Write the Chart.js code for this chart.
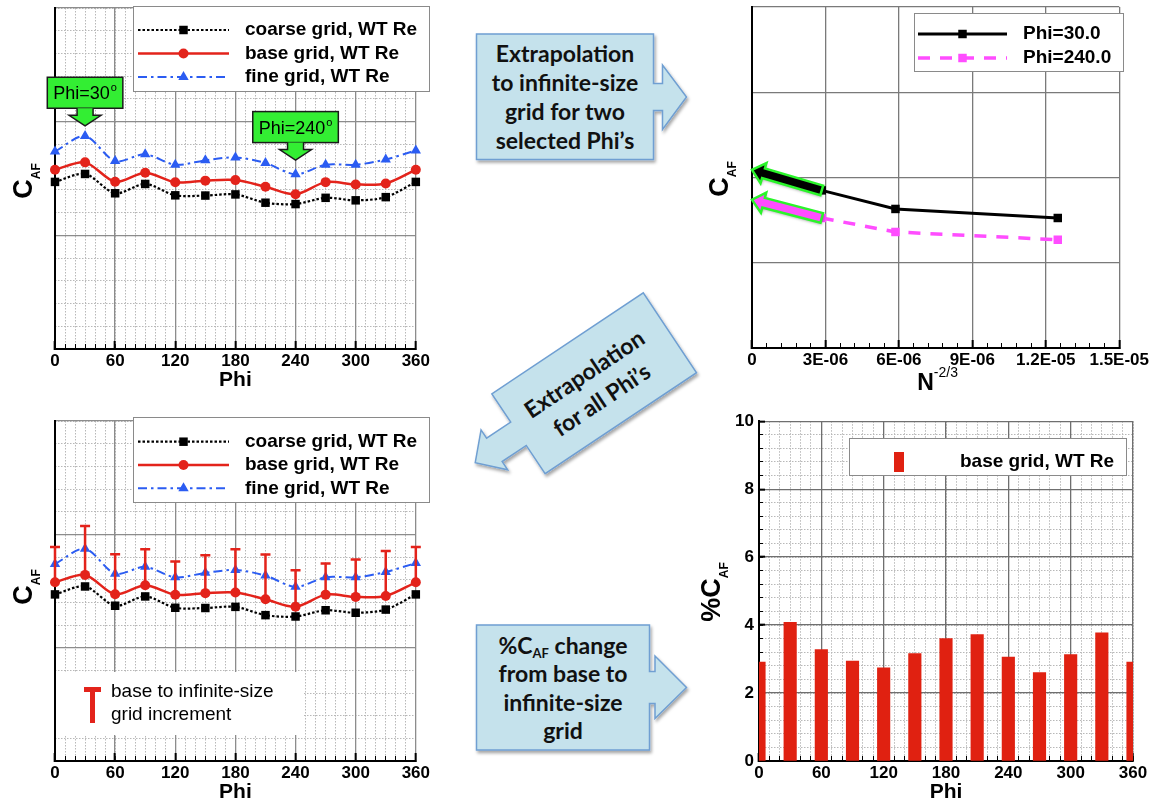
<!DOCTYPE html>
<html>
<head>
<meta charset="utf-8">
<script src="https://cdn.jsdelivr.net/npm/chart.js@4.4.0/dist/chart.umd.min.js"></script>
<style>
  html, body { margin: 0; padding: 0; background: #fff; }
  #page { position: relative; width: 1159px; height: 803px; overflow: hidden; }
  .panel { position: absolute; }
  #arrows { position: absolute; left: 0; top: 0; }
</style>
</head>
<body>
<div id="page">
  <svg id="arrows" width="1159" height="803">
    <defs>
      <filter id="sh" x="-20%" y="-20%" width="140%" height="140%">
        <feDropShadow dx="1.5" dy="2.5" stdDeviation="1.6" flood-color="#000" flood-opacity="0.35"/>
      </filter>
    </defs>
    <g fill="#c5e2ec" stroke="#6f9fd2" stroke-width="1.5" filter="url(#sh)">
      <path d="M476.5,34 H653.5 V83.5 H662.5 V65 L686.5,97 L662.5,129.5 V110.5 H653.5 V159.5 H476.5 Z"/>
      <path d="M476.5,625 H649.5 V671.5 H655 V656 L686.5,687.5 L655,718.5 V703.5 H649.5 V750 H476.5 Z"/>
      <path transform="translate(594.2,383.3) rotate(-33.7)"
            d="M-91,-48 H91 V48 H-91 V14 H-120 V24 L-143,0 L-120,-24 V-14 H-91 Z"/>
    </g>
    <g font-family="Lato, 'Open Sans', sans-serif" font-weight="bold" font-size="23" text-anchor="middle" fill="#111">
      <text x="565" y="62">Extrapolation</text>
      <text x="565" y="90.5">to infinite-size</text>
      <text x="565" y="120">grid for two</text>
      <text x="565" y="148.5">selected Phi’s</text>

      <text x="563" y="654">%C<tspan font-size="13" dy="4">AF</tspan><tspan dy="-4"> change</tspan></text>
      <text x="563" y="682">from base to</text>
      <text x="563" y="710.5">infinite-size</text>
      <text x="563" y="739">grid</text>

      <g transform="translate(594.2,383.3) rotate(-33.7)">
        <text x="-3" y="-5">Extrapolation</text>
        <text x="-3" y="26">for all Phi’s</text>
      </g>
    </g>
  </svg>
  <div class="panel" style="left:0;top:0;width:440px;height:400px"><canvas id="chart-caf-top"></canvas></div>
  <div class="panel" style="left:700px;top:0;width:459px;height:400px"><canvas id="chart-extrap"></canvas></div>
  <div class="panel" style="left:0;top:400px;width:440px;height:403px"><canvas id="chart-caf-bottom"></canvas></div>
  <div class="panel" style="left:700px;top:400px;width:459px;height:403px"><canvas id="chart-pct"></canvas></div>
</div>

<script>
// ---- data ----
var phiDeg      = [0, 30, 60, 90, 120, 150, 180, 210, 240, 270, 300, 330, 360];
var coarseCaf   = [1.470, 1.540, 1.370, 1.452, 1.352, 1.350, 1.360, 1.287, 1.275, 1.330, 1.308, 1.336, 1.470];
var baseCaf     = [1.577, 1.642, 1.471, 1.551, 1.467, 1.481, 1.486, 1.427, 1.361, 1.468, 1.448, 1.456, 1.577];
var fineCaf     = [1.738, 1.873, 1.653, 1.713, 1.621, 1.660, 1.685, 1.636, 1.537, 1.621, 1.621, 1.668, 1.746];
var infiniteCaf = [1.889, 2.074, 1.824, 1.868, 1.760, 1.816, 1.868, 1.821, 1.683, 1.742, 1.778, 1.854, 1.889];
var pctChange   = [2.91, 4.08, 3.28, 2.94, 2.74, 3.16, 3.60, 3.72, 3.06, 2.60, 3.13, 3.77, 2.91];

// N^-2/3 of fine, base, coarse grid
var gridN       = [2.85e-6, 5.86e-6, 12.49e-6];
var phi30Caf    = [1.849, 1.631, 1.525];
var phi240Caf   = [1.525, 1.361, 1.270];
var extrapCaf   = [2.09, 1.74];           // value at N^-2/3 = 0

var phiTicks    = [0, 60, 120, 180, 240, 300, 360];
var nTickValues = [0, 3e-6, 6e-6, 9e-6, 12e-6, 15e-6];
var nTickLabels = ['0', '3E-06', '6E-06', '9E-06', '1.2E-05', '1.5E-05'];

var seriesLabels = ['coarse grid, WT Re', 'base grid, WT Re', 'fine grid, WT Re'];

// ---- styles ----
var FONT = "'Liberation Sans', Arial, Helvetica, sans-serif";
var RED = '#e3231b', BLUE = '#2b5cf2', MAGENTA = '#ff4dff';

Chart.defaults.animation = false;
Chart.defaults.font.family = FONT;

// scale boxes get a fixed size so the plot area lands where the figure has it
function fixSize(n) {
  return function(scale) {
    if (scale.isHorizontal()) scale.height = n; else scale.width = n;
  };
}

function setTicks(values) {
  return function(scale) {
    scale.ticks = values.map(function(v) { return { value: v }; });
  };
}

function minorAxis(pos, min, max, step, tickLen) {
  return {
    type: 'linear', position: pos, min: min, max: max, offset: false,
    afterFit: fixSize(0),
    ticks: { display: false, stepSize: step },
    grid: { color: '#b8b8b8', lineWidth: 1, offset: false,
            drawTicks: !!tickLen, tickLength: tickLen || 0, tickColor: '#000', tickWidth: 1 },
    border: { display: false, dash: [1.5, 1.5] }
  };
}

function majorAxis(pos, min, max, step, o) {
  var ax = {
    type: 'linear', position: pos, min: min, max: max, offset: false,
    afterFit: fixSize(o.size || 0),
    ticks: { display: !!o.labels, stepSize: step, padding: o.pad || 0, color: '#000', autoSkip: false,
             maxRotation: 0, font: { family: FONT, size: 17, weight: 'bold' } },
    grid: { color: o.gridColor || '#8c8c8c', lineWidth: 1.3, offset: false,
            drawTicks: !!o.tick, tickLength: o.tick || 0, tickColor: '#000', tickWidth: 2 },
    border: { display: true, color: '#000', width: 2 }
  };
  if (o.values) ax.afterBuildTicks = setTicks(o.values);
  if (typeof o.labels === 'function') ax.ticks.callback = o.labels;
  return ax;
}

// ---- drawing helpers ----
function drawMarker(ctx, style, x, y, r) {
  ctx.beginPath();
  if (style === 'rect') {
    var s = r * Math.SQRT1_2;
    ctx.rect(x - s, y - s, 2 * s, 2 * s);
  } else if (style === 'triangle') {
    ctx.moveTo(x, y - r);
    ctx.lineTo(x + r * 0.866, y + r * 0.5);
    ctx.lineTo(x - r * 0.866, y + r * 0.5);
    ctx.closePath();
  } else {
    ctx.arc(x, y, r, 0, Math.PI * 2);
  }
  ctx.fill();
}

function drawLegend(chart, box) {
  var ctx = chart.ctx;
  ctx.save();
  ctx.fillStyle = '#fff';
  ctx.fillRect(box.x, box.y, box.w, box.h);
  ctx.strokeStyle = '#8a8a8a';
  ctx.lineWidth = 1;
  ctx.strokeRect(box.x + 0.5, box.y + 0.5, box.w, box.h);
  box.rows.forEach(function(rowY, i) {
    var ds = chart.data.datasets[i];
    ctx.strokeStyle = ds.borderColor;
    ctx.lineWidth = ds.borderWidth;
    ctx.setLineDash(ds.borderDash || []);
    ctx.beginPath();
    ctx.moveTo(box.lineX[0], rowY);
    ctx.lineTo(box.lineX[1], rowY);
    ctx.stroke();
    ctx.setLineDash([]);
    ctx.fillStyle = ds.borderColor;
    drawMarker(ctx, ds.pointStyle, (box.lineX[0] + box.lineX[1]) / 2, rowY, ds.pointRadius);
    ctx.fillStyle = '#000';
    ctx.font = 'bold 19px ' + FONT;
    ctx.textBaseline = 'middle';
    ctx.textAlign = 'left';
    ctx.fillText(ds.label, box.textX, rowY);
  });
  ctx.restore();
}

// text made of parts [text, size, dy, weight], rotated for y titles
function drawParts(ctx, parts, x, y, rotated) {
  ctx.save();
  ctx.translate(x, y);
  if (rotated) ctx.rotate(-Math.PI / 2);
  ctx.fillStyle = '#000';
  ctx.textBaseline = 'alphabetic';
  ctx.textAlign = 'left';
  var total = 0;
  parts.forEach(function(p) {
    ctx.font = (p[3] || 'bold') + ' ' + p[1] + 'px ' + FONT;
    p.w = ctx.measureText(p[0]).width;
    total += p.w;
  });
  var cx = -total / 2;
  parts.forEach(function(p) {
    ctx.font = (p[3] || 'bold') + ' ' + p[1] + 'px ' + FONT;
    ctx.fillText(p[0], cx, p[2]);
    cx += p.w;
  });
  ctx.restore();
}

function drawPhiTitle(chart, baseY) {
  var a = chart.chartArea;
  drawParts(chart.ctx, [['Phi', 21, 0]], (a.left + a.right) / 2, baseY, false);
}

// green "Phi=xx°" tag pointing down at a data position
function drawTag(chart, phi, caf, text) {
  var ctx = chart.ctx;
  var px = chart.scales.x.getPixelForValue(phi);
  var tipY = chart.scales.y.getPixelForValue(caf);
  ctx.save();
  ctx.font = '18px ' + FONT;
  var tw = ctx.measureText(text).width;
  var w = tw + 7 + 12, h = 31;
  var bottom = tipY - 17.5, top = bottom - h;
  ctx.fillStyle = '#33ee33';
  ctx.strokeStyle = '#1a1a1a';
  ctx.lineWidth = 1.5;
  ctx.fillRect(px - w / 2, top, w, h);
  ctx.strokeRect(px - w / 2, top, w, h);
  ctx.beginPath();
  ctx.moveTo(px - 8, bottom);
  ctx.lineTo(px - 8, bottom + 7);
  ctx.lineTo(px - 16, bottom + 7);
  ctx.lineTo(px, tipY);
  ctx.lineTo(px + 16, bottom + 7);
  ctx.lineTo(px + 8, bottom + 7);
  ctx.lineTo(px + 8, bottom);
  ctx.fill();
  ctx.stroke();
  ctx.fillStyle = '#000';
  ctx.textBaseline = 'alphabetic';
  ctx.textAlign = 'left';
  var tx = px - w / 2 + 6;
  ctx.fillText(text, tx, top + 22);
  ctx.font = '11px ' + FONT;
  ctx.fillText('o', tx + tw + 1, top + 14);
  ctx.restore();
}

function drawFatArrow(ctx, x0, y0, x1, y1, fill) {
  var dx = x1 - x0, dy = y1 - y0, len = Math.sqrt(dx * dx + dy * dy);
  var ux = dx / len, uy = dy / len, nx = -uy, ny = ux;
  var hw = 5, headW = 10.5, headL = 12;
  var bx = x1 - ux * headL, by = y1 - uy * headL;
  var pts = [
    [x0 + nx * hw, y0 + ny * hw], [bx + nx * hw, by + ny * hw], [bx + nx * headW, by + ny * headW],
    [x1, y1],
    [bx - nx * headW, by - ny * headW], [bx - nx * hw, by - ny * hw], [x0 - nx * hw, y0 - ny * hw]
  ];
  ctx.save();
  ctx.beginPath();
  pts.forEach(function(p, i) { if (i) ctx.lineTo(p[0], p[1]); else ctx.moveTo(p[0], p[1]); });
  ctx.closePath();
  ctx.shadowColor = 'rgba(0,0,0,0.35)';
  ctx.shadowBlur = 3;
  ctx.shadowOffsetX = 1;
  ctx.shadowOffsetY = 2;
  ctx.fillStyle = fill;
  ctx.fill();
  ctx.shadowColor = 'transparent';
  ctx.strokeStyle = '#2af52a';
  ctx.lineWidth = 2.5;
  ctx.lineJoin = 'miter';
  ctx.stroke();
  ctx.restore();
}

function toXY(xs, ys) {
  return ys.map(function(v, i) { return { x: xs[i], y: v }; });
}

function cafDatasets() {
  return [{
    label: seriesLabels[0], data: toXY(phiDeg, coarseCaf), xAxisID: 'x', yAxisID: 'y',
    borderColor: '#000', backgroundColor: '#000', pointBackgroundColor: '#000',
    borderWidth: 2.2, borderDash: [2.5, 2], pointStyle: 'rect', pointRadius: 6, pointBorderWidth: 0,
    tension: 0.3, clip: false
  }, {
    label: seriesLabels[1], data: toXY(phiDeg, baseCaf), xAxisID: 'x', yAxisID: 'y',
    borderColor: RED, backgroundColor: RED, pointBackgroundColor: RED,
    borderWidth: 2.5, pointStyle: 'circle', pointRadius: 5, pointBorderWidth: 0,
    tension: 0.3, clip: false
  }, {
    label: seriesLabels[2], data: toXY(phiDeg, fineCaf), xAxisID: 'x', yAxisID: 'y',
    borderColor: BLUE, backgroundColor: BLUE, pointBackgroundColor: BLUE,
    borderWidth: 2, borderDash: [9, 4, 2.5, 4], pointStyle: 'triangle', pointRadius: 6, pointBorderWidth: 0,
    tension: 0.3, clip: false
  }];
}

function cafScales(bottomSize) {
  return {
    xm: minorAxis('bottom', 0, 360, 10, -5),
    ym: minorAxis('left', 0, 3, 0.2, 0),
    x: majorAxis('bottom', 0, 360, 60, { labels: true, pad: 10, tick: -8, values: phiTicks, size: bottomSize }),
    y: majorAxis('left', 0, 3, 1, {})
  };
}

// ---- top-left: C_AF vs Phi with two marked angles ----
new Chart(document.getElementById('chart-caf-top'), {
  type: 'line',
  data: { datasets: cafDatasets() },
  options: {
    responsive: true, maintainAspectRatio: false,
    layout: { padding: { left: 55, top: 8, right: 11, bottom: 0 } },
    plugins: { legend: { display: false }, tooltip: { enabled: false } },
    scales: cafScales(51)
  },
  plugins: [{
    id: 'topLeftDecor',
    afterDraw: function(chart) {
      drawLegend(chart, { x: 133, y: 6, w: 296, h: 85, rows: [30, 53.5, 77], lineX: [138, 229], textX: 245 });
      drawTag(chart, 30, 1.964, 'Phi=30');
      drawTag(chart, 240, 1.662, 'Phi=240');
      drawParts(chart.ctx, [['C', 27, 0], ['AF', 12, 7.5]], 32, 181, true);
      drawPhiTitle(chart, 386);
    }
  }]
});

// ---- top-right: extrapolation to infinite grid ----
var minorN = [];
for (var k = 0; k <= 25; k++) minorN.push(k * 6e-7);

var extrapScales = {
  xm: (function() {
    var ax = minorAxis('bottom', 0, 1.5e-5, 6e-7, -5);
    ax.grid.drawOnChartArea = false;
    ax.afterBuildTicks = setTicks(minorN);
    return ax;
  })(),
  x: majorAxis('bottom', 0, 1.5e-5, 3e-6, {
    labels: function(v, i) { return nTickLabels[i]; }, pad: 10, tick: -8,
    values: nTickValues, gridColor: '#7a7a7a', size: 52
  }),
  y: majorAxis('left', 0, 4, 1, { gridColor: '#7a7a7a' })
};

new Chart(document.getElementById('chart-extrap'), {
  type: 'line',
  data: {
    datasets: [{
      label: 'Phi=30.0', data: toXY(gridN, phi30Caf), xAxisID: 'x', yAxisID: 'y',
      borderColor: '#000', backgroundColor: '#000', pointBackgroundColor: '#000',
      borderWidth: 3, pointStyle: 'rect', pointRadius: 6, pointBorderWidth: 0, clip: false
    }, {
      label: 'Phi=240.0', data: toXY(gridN, phi240Caf), xAxisID: 'x', yAxisID: 'y',
      borderColor: MAGENTA, backgroundColor: MAGENTA, pointBackgroundColor: MAGENTA,
      borderWidth: 3.5, borderDash: [12, 10], pointStyle: 'rect', pointRadius: 6, pointBorderWidth: 0, clip: false
    }]
  },
  options: {
    responsive: true, maintainAspectRatio: false,
    layout: { padding: { left: 52, top: 7, right: 33, bottom: 0 } },
    plugins: { legend: { display: false }, tooltip: { enabled: false } },
    scales: extrapScales
  },
  plugins: [{
    id: 'extrapDecor',
    afterDatasetsDraw: function(chart) {
      var xs = chart.scales.x, ys = chart.scales.y;
      var fills = ['#000', MAGENTA];
      [phi30Caf, phi240Caf].forEach(function(series, i) {
        drawFatArrow(chart.ctx,
          xs.getPixelForValue(gridN[0]), ys.getPixelForValue(series[0]),
          xs.getPixelForValue(0), ys.getPixelForValue(extrapCaf[i]), fills[i]);
      });
    },
    afterDraw: function(chart) {
      drawLegend(chart, { x: 214, y: 13, w: 209, h: 58, rows: [34, 58], lineX: [218, 307], textX: 323 });
      drawParts(chart.ctx, [['C', 27, 0], ['AF', 12, 7.5]], 28, 179, true);
      var a = chart.chartArea;
      drawParts(chart.ctx, [['N', 23, 0], ['-2/3', 14, -13, 'normal']], (a.left + a.right) / 2 + 2, 390, false);
    }
  }]
});

// ---- bottom-left: C_AF vs Phi with base-to-infinite increments ----
new Chart(document.getElementById('chart-caf-bottom'), {
  type: 'line',
  data: { datasets: cafDatasets() },
  options: {
    responsive: true, maintainAspectRatio: false,
    layout: { padding: { left: 55, top: 21, right: 11, bottom: 0 } },
    plugins: { legend: { display: false }, tooltip: { enabled: false } },
    scales: cafScales(42)
  },
  plugins: [{
    id: 'bottomLeftDecor',
    afterDatasetsDraw: function(chart) {
      var ctx = chart.ctx, xs = chart.scales.x, ys = chart.scales.y;
      ctx.save();
      ctx.strokeStyle = RED;
      ctx.lineWidth = 2.5;
      phiDeg.forEach(function(p, i) {
        var x = xs.getPixelForValue(p);
        var y0 = ys.getPixelForValue(baseCaf[i]);
        var y1 = ys.getPixelForValue(infiniteCaf[i]);
        ctx.beginPath();
        ctx.moveTo(x, y0);
        ctx.lineTo(x, y1);
        ctx.moveTo(x - 5, y1);
        ctx.lineTo(x + 5, y1);
        ctx.stroke();
      });
      ctx.restore();
    },
    afterDraw: function(chart) {
      var ctx = chart.ctx;
      drawLegend(chart, { x: 133, y: 17, w: 296, h: 85, rows: [41.7, 65, 88.3], lineX: [138, 229], textX: 245 });
      // increment key
      ctx.save();
      ctx.fillStyle = '#fff';
      ctx.fillRect(56, 272, 247, 63);
      ctx.strokeStyle = RED;
      ctx.lineWidth = 5;
      ctx.beginPath();
      ctx.moveTo(92.5, 287);
      ctx.lineTo(92.5, 323);
      ctx.moveTo(84, 289.5);
      ctx.lineTo(101, 289.5);
      ctx.stroke();
      ctx.fillStyle = '#000';
      ctx.font = '19px ' + FONT;
      ctx.textBaseline = 'middle';
      ctx.fillText('base to infinite-size', 111, 291.5);
      ctx.fillText('grid increment', 111, 314.5);
      ctx.restore();
      drawParts(ctx, [['C', 27, 0], ['AF', 12, 7.5]], 32, 187, true);
      drawPhiTitle(chart, 398);
    }
  }]
});

// ---- bottom-right: % change bars ----
var pctScales = {
  xm: minorAxis('bottom', 0, 360, 10, -5),
  ym: minorAxis('left', 0, 10, 0.4, -4),
  x: majorAxis('bottom', 0, 360, 60, { labels: true, pad: 10, tick: -8, values: phiTicks, gridColor: '#6f6f6f', size: 42 }),
  y: majorAxis('left', 0, 10, 2, { labels: true, pad: 11, tick: -6, gridColor: '#6f6f6f', size: 59 })
};

new Chart(document.getElementById('chart-pct'), {
  type: 'bar',
  data: {
    datasets: [{
      label: 'base grid, WT Re', data: toXY(phiDeg, pctChange), xAxisID: 'x', yAxisID: 'y',
      backgroundColor: '#e02111', borderWidth: 0, barThickness: 12.5, clip: 0
    }]
  },
  options: {
    responsive: true, maintainAspectRatio: false,
    layout: { padding: { left: 0, top: 21, right: 26, bottom: 0 } },
    plugins: { legend: { display: false }, tooltip: { enabled: false } },
    scales: pctScales
  },
  plugins: [{
    id: 'pctDecor',
    afterDraw: function(chart) {
      var ctx = chart.ctx;
      ctx.save();
      ctx.fillStyle = '#fff';
      ctx.fillRect(149, 38, 277, 37);
      ctx.strokeStyle = '#8a8a8a';
      ctx.lineWidth = 1;
      ctx.strokeRect(149.5, 38.5, 277, 37);
      ctx.fillStyle = chart.data.datasets[0].backgroundColor;
      ctx.fillRect(194, 52, 10, 20);
      ctx.fillStyle = '#000';
      ctx.font = 'bold 19px ' + FONT;
      ctx.textBaseline = 'middle';
      ctx.fillText(chart.data.datasets[0].label, 260, 62);
      ctx.restore();
      drawParts(ctx, [['%C', 27, 0], ['AF', 12, 8]], 20, 192, true);
      drawPhiTitle(chart, 398);
    }
  }]
});
</script>
</body>
</html>
